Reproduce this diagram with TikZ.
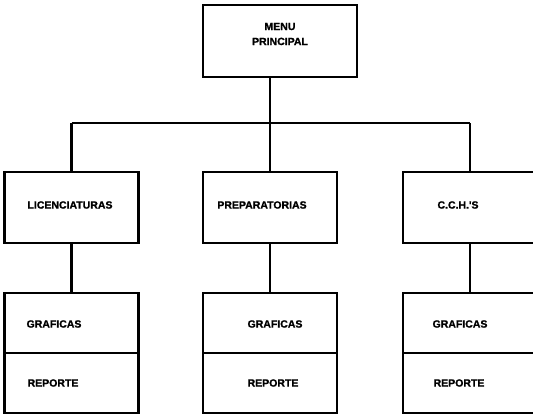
\documentclass[tikz,border=0pt]{standalone}
\usepackage{fontspec}
\setmainfont{Liberation Sans}
\newfontfamily\gruesa[FakeBold=1.2]{Liberation Sans}
\usepackage{tikz}

\tikzset{
  caja/.style={draw=black,line width=2.6pt,minimum width=134pt,inner sep=0pt},
  rotulo/.style={font=\gruesa\fontsize{10.5}{15}\selectfont\bfseries,inner sep=0pt,align=center},
  liga/.style={line width=2.6pt}
}

\begin{document}
\begin{tikzpicture}[x=1pt,y=1pt,yscale=-1,xscale=1]
\useasboundingbox (0,0) rectangle (533,415);

%Shape: Rectangle [menu]
\node [caja,minimum width=154pt,minimum height=72pt] (menu) at (280,41) {};
% Text Node
\node [rotulo] (tmenu) at (280,34) {MENU\\PRINCIPAL};

%Shape: Rectangle [second level]
\node [caja,minimum height=71pt] (lic) at (71.5,207.5) {};
\node [caja,minimum height=71pt] (prep) at (270,207.5) {};
\node [caja,minimum height=71pt] (cch) at (470,207.5) {};
% Text Node
\node [rotulo] (tlic) at (70,205) {LICENCIATURAS};
\node [rotulo] (tprep) at (262,205) {PREPARATORIAS};
\node [rotulo] (tcch) at (458,205) {C.C.H.\textquotesingle S};

%Shape: Rectangle [graficas]
\node [caja,minimum height=60pt] (graf1) at (71.5,323) {};
\node [caja,minimum height=60pt] (graf2) at (270,323) {};
\node [caja,minimum height=60pt] (graf3) at (470,323) {};
%Shape: Rectangle [reporte]
\node [caja,minimum height=60pt] (rep1) at (71.5,383) {};
\node [caja,minimum height=60pt] (rep2) at (270,383) {};
\node [caja,minimum height=60pt] (rep3) at (470,383) {};
% Text Node
\node [rotulo] (tgraf1) at (54,324) {GRAFICAS};
\node [rotulo] (tgraf2) at (275,324) {GRAFICAS};
\node [rotulo] (tgraf3) at (460,324) {GRAFICAS};
\node [rotulo] (trep1) at (53,383) {REPORTE};
\node [rotulo] (trep2) at (273,383) {REPORTE};
\node [rotulo] (trep3) at (459,383) {REPORTE};

%Straight Lines [connectors]
\coordinate (bus) at (0,123);
\draw [liga] (menu.south -| prep.north) -- (bus -| prep.north);
\draw [liga] (bus -| lic.north) -- (bus -| cch.north);
\draw [liga] (bus -| lic.north) -- (lic.north);
\draw [liga] (bus -| prep.north) -- (prep.north);
\draw [liga] (bus -| cch.north) -- (cch.north);
\draw [liga] (lic.south) -- (graf1.north);
\draw [liga] (prep.south) -- (graf2.north);
\draw [liga] (cch.south) -- (graf3.north);

\end{tikzpicture}
\end{document}
